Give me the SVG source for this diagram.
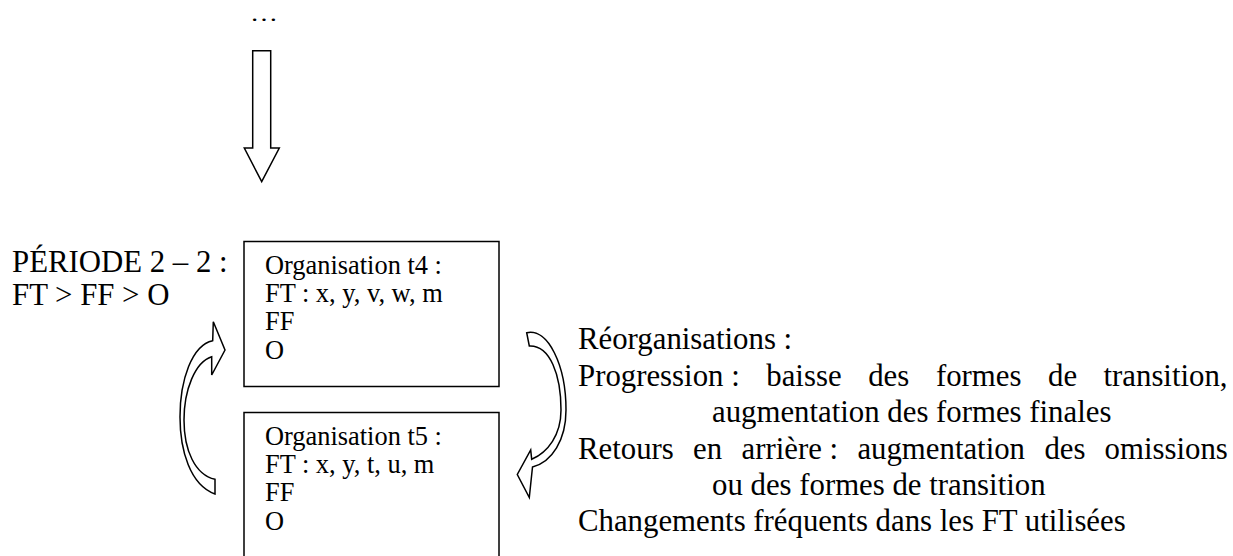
<svg xmlns="http://www.w3.org/2000/svg" width="1233" height="556" viewBox="0 0 1233 556">
<style>
  text { font-family: "Liberation Serif", "Times New Roman", serif; fill: #000; }
  .big { font-size: 30.8px; }
  .box { font-size: 26.4px; }
  .shape { fill: #fff; stroke: #000; stroke-width: 1.5; stroke-linejoin: miter; }
</style>
<rect width="1233" height="556" fill="#fff"/>

<g id="ellipsis">
  <text x="250" y="20.5" font-size="22" textLength="28" lengthAdjust="spacingAndGlyphs">…</text>
</g>

<g id="periode">
  <text class="big" x="12" y="272">PÉRIODE 2 – 2 :</text>
  <text class="big" x="12" y="305">FT &gt; FF &gt; O</text>
</g>

<g id="org-t4">
  <rect class="shape" x="244" y="241.5" width="255" height="145"/>
  <text class="box" x="265" y="273.5">Organisation t4 :</text>
  <text class="box" x="265" y="302">FT : x, y, v, w, m</text>
  <text class="box" x="265" y="330">FF</text>
  <text class="box" x="265" y="358.5">O</text>
</g>

<g id="org-t5">
  <rect class="shape" x="244" y="412.5" width="255" height="160"/>
  <text class="box" x="265" y="444.5">Organisation t5 :</text>
  <text class="box" x="265" y="473">FT : x, y, t, u, m</text>
  <text class="box" x="265" y="501">FF</text>
  <text class="box" x="265" y="529.5">O</text>
</g>

<g id="reorganisations">
  <text class="big" x="578" y="349">Réorganisations :</text>
  <text class="big" y="386"><tspan x="578">Progression :</tspan><tspan x="766.3">baisse</tspan><tspan x="868.2">des</tspan><tspan x="935.9">formes</tspan><tspan x="1048">de</tspan><tspan x="1103.5">transition,</tspan></text>
  <text class="big" x="712" y="422">augmentation des formes finales</text>
  <text class="big" y="459"><tspan x="578">Retours</tspan><tspan x="693.1">en</tspan><tspan x="741.5">arrière :</tspan><tspan x="857.4">augmentation</tspan><tspan x="1044.4">des</tspan><tspan x="1104.6">omissions</tspan></text>
  <text class="big" x="712" y="495">ou des formes de transition</text>
  <text class="big" x="578" y="531">Changements fréquents dans les FT utilisées</text>
</g>

<g id="connectors">
  <polygon class="shape" points="252.7,50.7 270.7,50.7 270.7,148 279.3,148 261.7,181.7 244.3,148 252.7,148"/>
  <path class="shape" d="M215,494 C190,485 180,450 180,417 C180,380 192,345 212.7,340.7 L213.3,321.7 L225,350 L211.7,375 L211.7,356.7 C195,362 184,390 184,420 C184,450 195,475 215,479.3 Z"/>
  <path class="shape" d="M526.7,332.7 C548,328 566,365 566,410 C566,440 552,462 532.5,467 L529.3,497.5 L517.3,474.5 L530.7,450 L531.7,459.3 C548,452 561,435 561,410 C561,375 550,345 529.3,346 Z"/>
</g>
</svg>
